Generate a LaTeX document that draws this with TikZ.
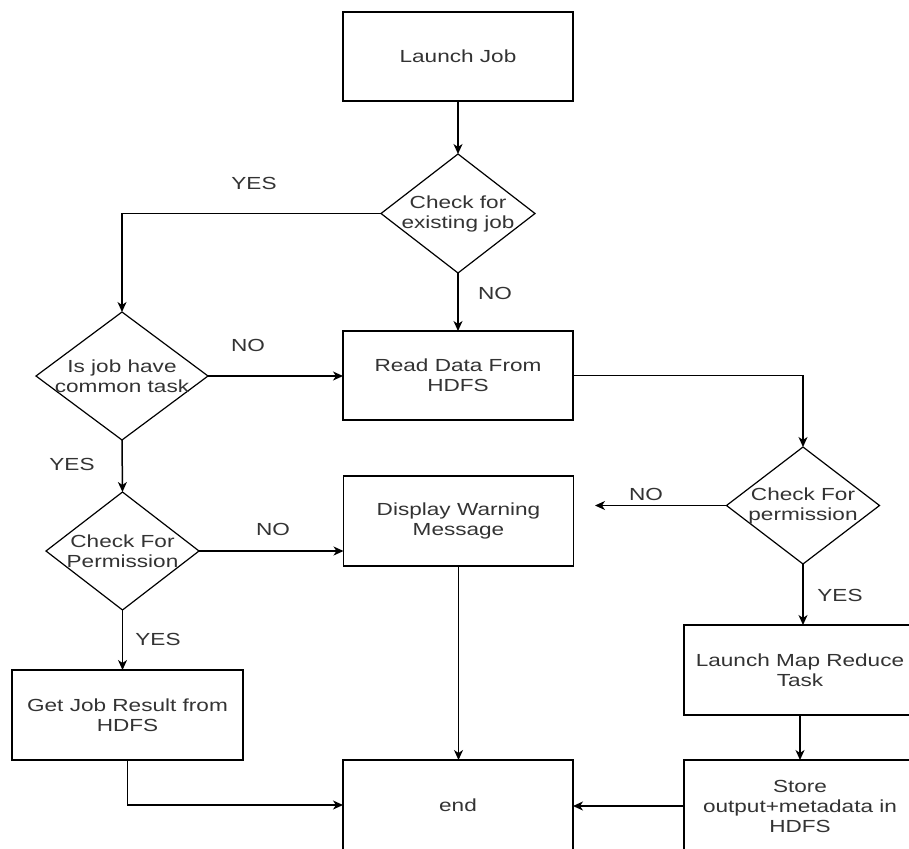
\documentclass[tikz,border=0pt]{standalone}
\usepackage{fontspec}
\setmainfont{Liberation Sans}[FakeStretch=1.29]
\usetikzlibrary{shapes.geometric,arrows.meta}
\definecolor{inkgrey}{HTML}{333333}
\begin{document}
\begin{tikzpicture}[x=1pt,y=-1pt,
  every node/.style={font=\fontsize{17.5}{20}\selectfont, text=inkgrey},
  procbox/.style={draw=black, line width=1.4pt, rectangle, minimum width=230pt,
    minimum height=89pt, inner sep=0pt, outer sep=0pt, align=center},
  decision/.style={draw=black, line width=1.2pt, diamond, inner sep=0pt, outer sep=0pt},
  flow/.style={line width=1.5pt, -{Stealth[length=10pt,width=9pt,inset=3pt]}},
  tag/.style={inner sep=0pt}
]
\clip (0,0) rectangle (909,848);
\fill[white] (0,0) rectangle (909,848);

% process boxes
\node[procbox] (launch) at (458,56.5) {Launch Job};
\node[procbox] (read) at (458,375.5) {Read Data From\\HDFS};
\node[procbox, minimum height=90pt] (warn) at (458.5,521) {Display Warning\\Message};
\node[procbox, minimum width=231pt, minimum height=90pt] (getjob) at (127.5,715) {Get Job Result from\\HDFS};
\node[procbox, minimum height=90pt] (endbox) at (458,805) {end};
\node[procbox, minimum width=232pt, minimum height=90pt] (mapred) at (800,670) {Launch Map Reduce\\Task};
\node[procbox, minimum width=232pt, minimum height=92pt] (store) at (800,806) {Store\\output+metadata in\\HDFS};

% decisions
\node[decision, minimum width=154pt, minimum height=119pt,
  label={[align=center]center:Check for\\existing job}] (check) at (458,213.5) {};
\node[decision, minimum width=172pt, minimum height=128pt,
  label={[align=center]center:Is job have\\common task}] (common) at (122,376) {};
\node[decision, minimum width=153pt, minimum height=117pt,
  label={[align=center]center:Check For\\permission}] (permr) at (803,505.5) {};
\node[decision, minimum width=153pt, minimum height=118pt,
  label={[align=center]center:Check For\\Permission}] (perml) at (122.5,551) {};

\coordinate (warnin) at (595,505.5);

% connectors
\draw[flow] (launch) -- (check);
\draw[flow] (check.west) -| (common.north);
\draw[flow] (check.south) -- (read.north);
\draw[flow] (common.east) -- (common.east -| read.west);
\draw[flow] (read.east) -| (permr.north);
\draw[flow] (permr.west) -- (warnin);
\draw[flow] (common.south) -- (perml.north);
\draw[flow] (perml.east) -- (perml.east -| warn.west);
\draw[flow] (perml.south) -- (perml.south |- getjob.north);
\draw[flow] (getjob.south) |- (endbox.west);
\draw[flow] (warn.south) -- (warn.south |- endbox.north);
\draw[flow] (permr.south) -- (permr.south |- mapred.north);
\draw[flow] (mapred.south) -- (store.north);
\draw[flow] (store.west) -- (store.west -| endbox.east);

% branch labels
\node[tag] (l1) at (254,183) {YES};
\node[tag] (l2) at (495,293) {NO};
\node[tag] (l3) at (248,345) {NO};
\node[tag] (l4) at (646,494) {NO};
\node[tag] (l5) at (72,464) {YES};
\node[tag] (l6) at (273,529) {NO};
\node[tag] (l7) at (158,639) {YES};
\node[tag] (l8) at (840,595) {YES};
\end{tikzpicture}
\end{document}
